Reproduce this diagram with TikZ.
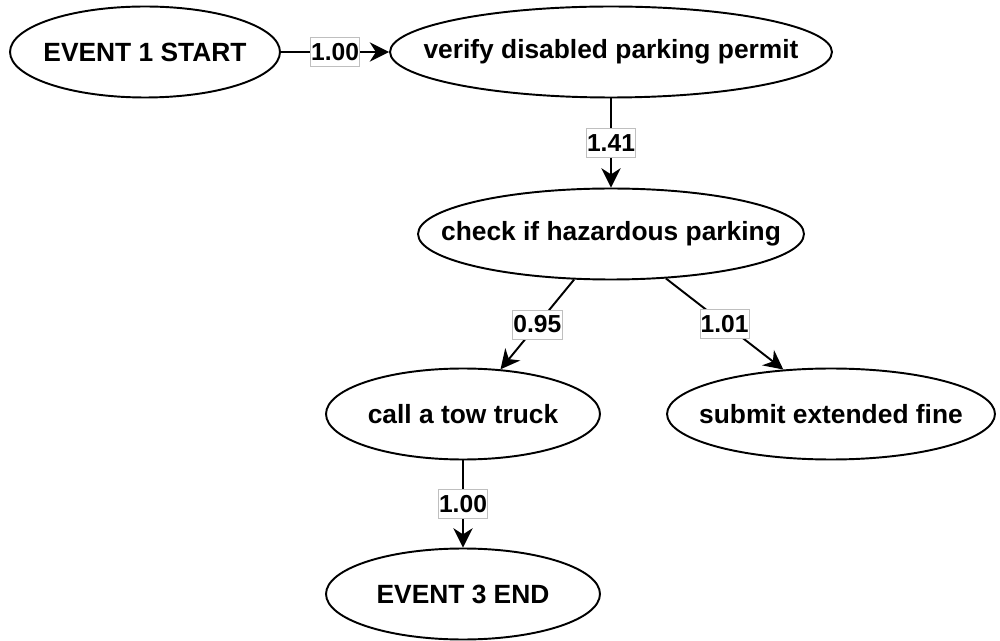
\documentclass[tikz,border=0pt]{standalone}
\usepackage{fontspec}
\setmainfont{Liberation Sans}
\usetikzlibrary{arrows.meta,shapes.geometric}

\newcommand{\ctext}[1]{\makebox[0pt]{#1}}

\begin{document}
\begin{tikzpicture}[
	evt/.style={ellipse, draw=black, line width=1.1pt, fill=white, inner sep=0pt,
		minimum height=1.82cm, font=\fontsize{15}{18}\selectfont\bfseries},
	wt/.style={fill=white, draw=black!25, line width=0.4pt, inner xsep=0.4pt, inner ysep=0pt,
		minimum height=0.58cm, font=\fontsize{14}{16}\selectfont\bfseries},
	flow/.style={line width=1.1pt, -{Stealth[length=11pt,width=11pt,inset=3.5pt]}}
]
	\begin{scope}[x=0.02cm,y=-0.02cm]
		\useasboundingbox (0,0) rectangle (1000,641);

		\node[evt, minimum width=5.4cm]  (start)  at (145,52)  {\ctext{EVENT 1 START}};
		\node[evt, minimum width=8.84cm] (verify) at (611,52)  {\ctext{verify disabled parking permit}};
		\node[evt, minimum width=7.72cm] (hazard) at (611,234) {\ctext{check if hazardous parking}};

		\node[evt, minimum width=5.48cm] (tow)    at (463,414) {\ctext{call a tow truck}};
		\node[evt, minimum width=6.56cm] (fine)   at (831,414) {\ctext{submit extended fine}};
		\node[evt, minimum width=5.48cm] (finish) at (463,594) {\ctext{EVENT 3 END}};

		% weighted transitions
		\draw[flow] (start) -- node[wt] {1.00} (verify);
		\draw[flow] (verify) -- node[wt] {1.41} (hazard);
		\draw[flow] (hazard.-129) -- node[wt] {0.95} (tow.50);
		\draw[flow] (hazard.-39) -- node[wt] {1.01} (fine.137);
		\draw[flow] (tow) -- node[wt] {1.00} (finish);
	\end{scope}
\end{tikzpicture}
\end{document}
